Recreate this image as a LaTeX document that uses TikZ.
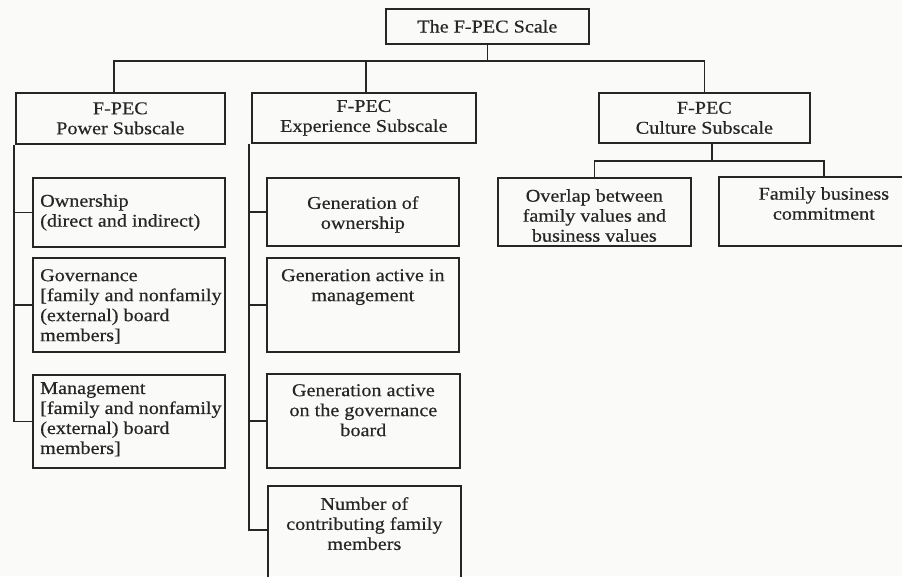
\documentclass[tikz,border=0pt]{standalone}
\usepackage{fontspec}
\setmainfont{Liberation Serif}[FakeStretch=1.12,FakeBold=0.5]
\definecolor{ink}{HTML}{262626}
\definecolor{paper}{HTML}{FAFAF8}
\begin{document}
\begin{tikzpicture}[x=1pt,y=-1pt,
  wire/.style={draw=ink, line width=1.7pt},
  box/.style={draw=ink, line width=1.7pt, rectangle, inner sep=0pt,
              anchor=north west, align=center, text=ink,
              font=\fontsize{18}{20}\selectfont},
  ctext/.style={inner sep=0pt, anchor=north, align=center, text=ink,
                font=\fontsize{18}{20}\selectfont},
  ltext/.style={inner sep=0pt, anchor=north west, align=left, text=ink,
                font=\fontsize{18}{20}\selectfont}]
\useasboundingbox (0,0) rectangle (902,576);
\fill[paper] (0,0) rectangle (902,576);

% root and subscale headers
\node[box, minimum width=203pt, minimum height=35pt] (top) at (385,8) {The F-PEC Scale};
\node[box, minimum width=209pt, minimum height=51pt] (pow) at (15,92) {F-PEC\\Power Subscale};
\node[box, minimum width=224pt, minimum height=50pt] (exp) at (251,92) {F-PEC\\Experience Subscale};
\node[box, minimum width=211pt, minimum height=50pt] (cul) at (598,92) {F-PEC\\Culture Subscale};

% power items
\node[box, minimum width=192pt, minimum height=69pt] (own) at (32,177) {};
\node[box, minimum width=192pt, minimum height=94pt] (gov) at (32,257) {};
\node[box, minimum width=192pt, minimum height=93pt] (mgmt) at (32,374) {};
\node[ltext] (own-t) at ([xshift=8pt,yshift=-17pt]own.north west) {Ownership\\(direct and indirect)};
\node[ltext] (gov-t) at ([xshift=8pt,yshift=-12pt]gov.north west) {Governance\\{[}family and nonfamily\\(external) board\\members{]}};
\node[ltext] (mgmt-t) at ([xshift=8pt,yshift=-8pt]mgmt.north west) {Management\\{[}family and nonfamily\\(external) board\\members{]}};

% experience items
\node[box, minimum width=192pt, minimum height=68pt] (genown) at (266,177) {};
\node[box, minimum width=192pt, minimum height=94pt] (genmgmt) at (266,257) {};
\node[box, minimum width=193pt, minimum height=94pt] (gengov) at (266,373) {};
\node[box, minimum width=193pt, minimum height=96pt] (num) at (267,485) {};
\node[ctext] (genown-t) at ([yshift=-19pt]genown.north) {Generation of\\ownership};
\node[ctext] (genmgmt-t) at ([yshift=-12pt]genmgmt.north) {Generation active in\\management};
\node[ctext] (gengov-t) at ([yshift=-11pt]gengov.north) {Generation active\\on the governance\\board};
\node[ctext] (num-t) at ([yshift=-12pt]num.north) {Number of\\contributing family\\members};

% culture items
\node[box, minimum width=193pt, minimum height=68pt] (ovl) at (497,177) {};
\node[box, minimum width=210pt, minimum height=69pt] (fam) at (718,176) {};
\node[ctext] (ovl-t) at ([yshift=-12pt]ovl.north) {Overlap between\\family values and\\business values};
\node[ctext] (fam-t) at ([yshift=-11pt]fam.north) {Family business\\commitment};

% connectors
\coordinate (bus) at (0,61);
\coordinate (cbus) at (0,161);
\draw[wire] (top.south) -- (top.south |- bus);
\draw[wire] ([xshift=-6.5pt]pow.north) |- (cul.north |- bus) -- (cul.north);
\draw[wire] ([xshift=2pt]exp.north) -- ([xshift=2pt]exp.north |- bus);

\draw[wire] ([xshift=-1pt]pow.south west) |- (mgmt.west);
\draw[wire] ([xshift=-1pt]pow.south west |- own.west) -- (own.west);
\draw[wire] ([xshift=-1pt]pow.south west |- gov.west) -- (gov.west);

\draw[wire] ([xshift=-2pt]exp.south west) |- ([yshift=4pt]num.west);
\draw[wire] ([xshift=-2pt]exp.south west |- genown.west) -- (genown.west);
\draw[wire] ([xshift=-2pt]exp.south west |- genmgmt.west) -- (genmgmt.west);
\draw[wire] ([xshift=-2pt]exp.south west |- gengov.west) -- (gengov.west);

\draw[wire] ([xshift=7.5pt]cul.south) -- ([xshift=7.5pt]cul.south |- cbus);
\draw[wire] (ovl.north) |- (fam.north |- cbus) -- (fam.north);
\end{tikzpicture}
\end{document}
